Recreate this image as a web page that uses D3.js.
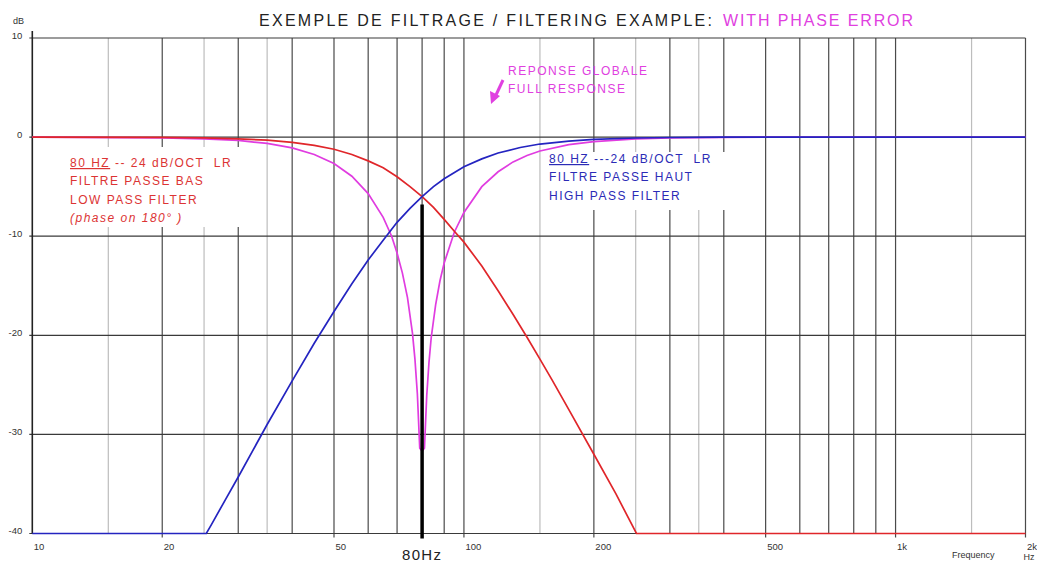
<!DOCTYPE html>
<html>
<head>
<meta charset="utf-8">
<script src="https://cdn.jsdelivr.net/npm/d3@7"></script>
<style>
  body { margin: 0; background: #fff; }
  svg { display: block; font-family: "Liberation Sans", Arial, sans-serif; }
</style>
</head>
<body>
<svg width="1037" height="562"></svg>
<script>
// frequency in Hz, level in dB
var lowPass = [[10, 0], [20, -0.03], [25, -0.08], [30, -0.17], [35, -0.31], [40, -0.53],
    [45, -0.83], [50, -1.23], [55, -1.75], [60, -2.4], [65, -3.1], [70, -4.0], [75, -5.0],
    [80, -6.0], [85, -7.1], [90, -8.3], [95, -9.5], [100, -10.6], [110, -13.0], [120, -15.5],
    [130, -17.9], [140, -20.2], [150, -22.4], [160, -24.5], [175, -27.5], [200, -32.0],
    [225, -36.0], [251, -40], [2000, -40]]

var highPass = [[10, -40], [25.3, -40], [26, -39.1], [28, -36.6], [30, -34.3], [35, -29.0],
    [40, -24.6], [45, -20.8], [50, -17.6], [55, -14.8], [60, -12.4], [65, -10.4], [70, -8.6],
    [75, -7.2], [80, -6.0], [85, -5.0], [90, -4.2], [100, -3.0], [110, -2.2], [120, -1.6],
    [135, -1.05], [150, -0.7], [175, -0.4], [200, -0.22], [250, -0.09], [300, -0.04],
    [400, 0], [2000, 0]]

var fullResponse = [[10, 0], [20, -0.07], [25, -0.17], [30, -0.34], [35, -0.64], [40, -1.09],
    [45, -1.75], [50, -2.67], [55, -3.95], [60, -5.7], [65, -8.1], [68, -10.0], [70, -11.7],
    [72, -13.7], [74, -16.2], [76, -19.8], [77, -22.4], [78, -25.9], [79, -31.4], [80, -31.7],
    [81, -31.4], [82, -26.1], [83, -22.7], [84, -20.2], [86, -16.9], [88, -14.5], [90, -12.7],
    [95, -9.6], [100, -7.6], [110, -5.0], [120, -3.5], [130, -2.5], [140, -1.85], [150, -1.4],
    [175, -0.76], [200, -0.45], [250, -0.18], [300, -0.09], [400, -0.03], [500, 0], [2000, 0]]

var majorGrid = [20, 30, 40, 50, 60, 70, 80, 90, 100, 200, 300, 400, 500, 600, 700, 800, 900, 1000, 2000]
var minorGrid = [15, 25, 35, 150, 250, 350, 1500]
var freqTicks = [10, 20, 50, 100, 200, 500, 1000, 2000]
var freqLabels = ["10", "20", "50", "100", "200", "500", "1k", "2k"]
var dbTicks = [-40, -30, -20, -10, 0, 10]
var crossover = 80

function makeChart() {
    var svg = d3.select("svg")

    var x = d3.scaleLog().domain([10, 2000]).range([32.3, 1025.5]),
        y = d3.scaleLinear().domain([-40, 10]).range([533.5, 38])

    // Titel
    svg.append("text").attr("x", 259).attr("y", 26)
        .attr("font-size", 16).attr("fill", "#222")
        .attr("textLength", 453).attr("lengthAdjust", "spacing")
        .text("EXEMPLE DE FILTRAGE / FILTERING EXAMPLE:")
    svg.append("text").attr("x", 723).attr("y", 26)
        .attr("font-size", 16).attr("fill", "#e040e0")
        .attr("textLength", 190).attr("lengthAdjust", "spacing")
        .text("WITH PHASE ERROR")

    // Gitter
    var grid = svg.append("g")
    grid.selectAll("line.minor").data(minorGrid).enter().append("line")
        .attr("class", "minor")
        .attr("x1", d => x(d)).attr("x2", d => x(d))
        .attr("y1", y(10)).attr("y2", y(-40))
        .attr("stroke", "#bdbdbd").attr("stroke-width", 1.2)
    grid.selectAll("line.major").data(majorGrid).enter().append("line")
        .attr("class", "major")
        .attr("x1", d => x(d)).attr("x2", d => x(d))
        .attr("y1", y(10)).attr("y2", d => freqTicks.indexOf(d) >= 0 ? y(-40) + 4 : y(-40))
        .attr("stroke", "#4a4a4a").attr("stroke-width", 1.2)
    grid.selectAll("line.h").data(dbTicks).enter().append("line")
        .attr("class", "h")
        .attr("x1", x(10) - 3).attr("x2", x(2000))
        .attr("y1", d => y(d)).attr("y2", d => y(d))
        .attr("stroke", "#3a3a3a").attr("stroke-width", 1.2)

    // y-Achse
    svg.append("line").attr("x1", x(10)).attr("x2", x(10))
        .attr("y1", y(10) - 7).attr("y2", y(-40))
        .attr("stroke", "#222").attr("stroke-width", 1.6)

    var yAxis = svg.append("g").attr("transform", "translate(" + x(10) + ",0)")
        .call(d3.axisLeft(y).tickValues(dbTicks).tickSize(0).tickPadding(10).tickFormat(d => String(d)))
    yAxis.select(".domain").remove()
    yAxis.selectAll("text").attr("dy", 0).attr("font-size", 9.5).attr("fill", "#333")
        .attr("font-family", null)

    svg.append("text").attr("x", 13).attr("y", 24).attr("font-size", 9)
        .attr("fill", "#333").text("dB")

    // x-Achse
    var xAxis = svg.append("g").attr("transform", "translate(0," + y(-40) + ")")
        .call(d3.axisBottom(x).tickValues(freqTicks).tickSize(0).tickPadding(0)
            .tickFormat((d, i) => freqLabels[i]))
    xAxis.select(".domain").remove()
    xAxis.selectAll("text").attr("text-anchor", "start").attr("dx", 1).attr("dy", 0)
        .attr("y", 16).attr("font-size", 9.5).attr("fill", "#333").attr("font-family", null)

    svg.append("text").attr("x", x(2000) - 2).attr("y", 560).attr("font-size", 9)
        .attr("fill", "#333").text("Hz")
    svg.append("text").attr("x", 952).attr("y", 558).attr("font-size", 9)
        .attr("fill", "#333").text("Frequency")

    // weisse Kaesten hinter den Beschriftungen
    svg.append("rect").attr("x", 62).attr("y", 147).attr("width", 190).attr("height", 80)
        .attr("fill", "#fff")
    svg.append("rect").attr("x", 545).attr("y", 152).attr("width", 214).attr("height", 58)
        .attr("fill", "#fff")

    // Kurven
    var line = d3.line().x(d => x(d[0])).y(d => y(d[1]))
    svg.append("path").datum(fullResponse).attr("d", line)
        .attr("fill", "none").attr("stroke", "#e03ce0").attr("stroke-width", 1.7)
    svg.append("path").datum(lowPass).attr("d", line)
        .attr("fill", "none").attr("stroke", "#e0262a").attr("stroke-width", 1.7)
    svg.append("path").datum(highPass).attr("d", line)
        .attr("fill", "none").attr("stroke", "#2424c0").attr("stroke-width", 1.7)

    // 80 Hz Markierung
    svg.append("line").attr("x1", x(crossover)).attr("x2", x(crossover))
        .attr("y1", y(-6.8)).attr("y2", y(-40) + 5)
        .attr("stroke", "#000").attr("stroke-width", 3.5)
    svg.append("text").attr("x", x(crossover)).attr("y", 560)
        .attr("text-anchor", "middle").attr("font-size", 15).attr("letter-spacing", 1.3)
        .attr("fill", "#222").text("80Hz")

    // Beschriftungen
    function note(x0, y0, color, lines) {
        var g = svg.append("g").attr("fill", color).attr("font-size", 12)
            .attr("letter-spacing", 1.5)
        lines.forEach(function (l, i) {
            var t = g.append("text").attr("x", x0).attr("y", y0 + i * 18.3)
            if (l.under) {
                t.append("tspan").attr("text-decoration", "underline").text(l.under)
            }
            t.append("tspan").text(l.text.replace(/  /g, " \u00a0"))
            if (l.italic) t.attr("font-style", "italic")
        })
    }
    note(70, 167, "#dc3434", [
        {under: "80 HZ", text: "\u00a0-- 24 dB/OCT  LR"},
        {text: "FILTRE PASSE BAS"},
        {text: "LOW PASS FILTER"},
        {text: "(phase on 180° )", italic: true}
    ])
    note(549, 163, "#2b2bb6", [
        {under: "80 HZ", text: "\u00a0---24 dB/OCT  LR"},
        {text: "FILTRE PASSE HAUT"},
        {text: "HIGH PASS FILTER"}
    ])
    note(508, 75, "#e040e0", [
        {text: "REPONSE GLOBALE"},
        {text: "FULL RESPONSE"}
    ])

    // Pfeil
    svg.append("line").attr("x1", 503).attr("y1", 80).attr("x2", 496).attr("y2", 95)
        .attr("stroke", "#e040e0").attr("stroke-width", 3)
    svg.append("path").attr("d", "M491,104 L490,91 L500,96 Z").attr("fill", "#e040e0")
}

makeChart()
</script>
</body>
</html>
